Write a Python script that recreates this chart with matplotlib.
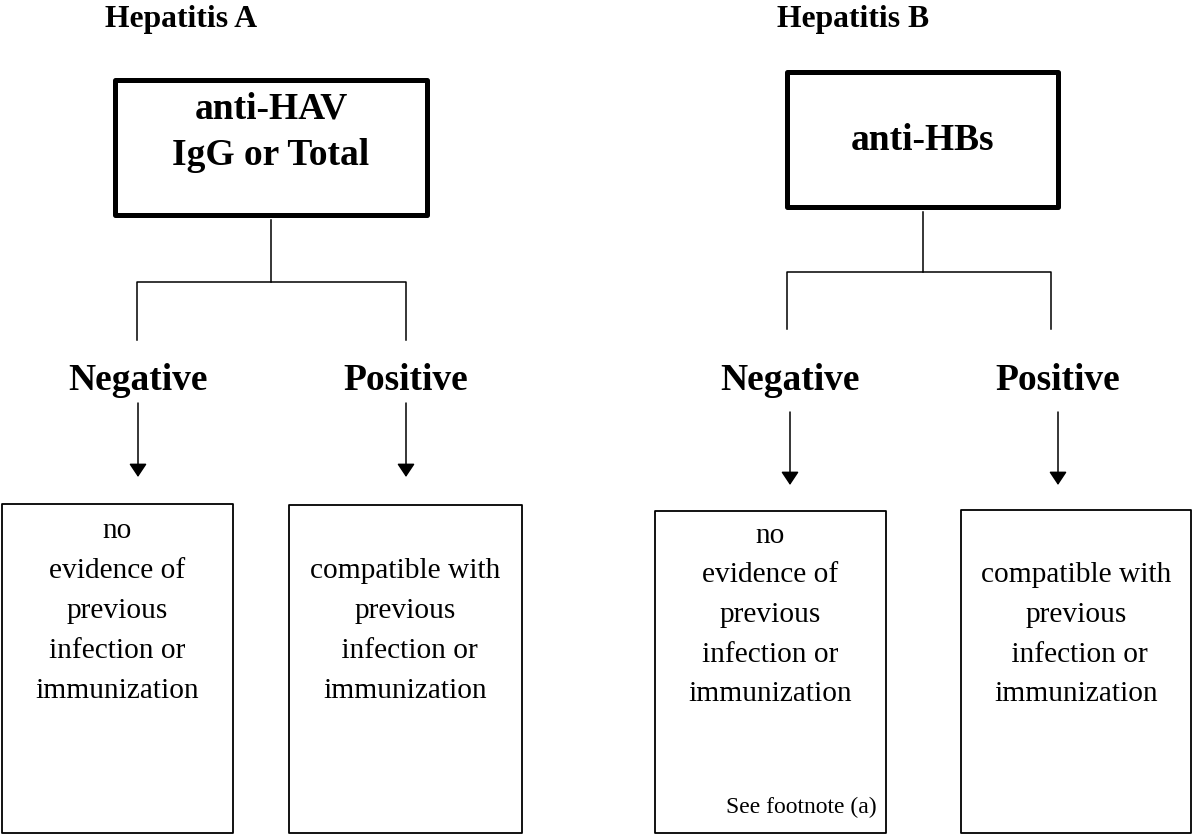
import matplotlib
matplotlib.use('Agg')
from matplotlib import pyplot as plt
from matplotlib.patches import Rectangle

plt.rcParams['font.family'] = ['Liberation Serif', 'DejaVu Serif']

##### chart content #####
panel_titles = ['Hepatitis A', 'Hepatitis B']
test_names = [['anti-HAV', 'IgG or Total'], ['anti-HBs']]
result_labels = ['Negative', 'Positive']
negative_text = ['no', 'evidence of', 'previous', 'infection or', 'immunization']
positive_text = ['compatible with', 'previous', ' infection or', 'immunization']
footnote = 'See footnote (a)'
#########################

# layout in pixels (y goes down), one dict per panel
panels = [
    dict(title_x=105, top_box=(115, 80, 427, 215), top_text_y=[118, 165],
         stem=(271, 220, 282), split=(137, 406), drop=340,
         arrows=(138, 406), arrow_y=(403, 477),
         boxes=[(2, 504, 233, 833), (289, 505, 522, 833)],
         line0=538, step=40),
    dict(title_x=777, top_box=(787, 72, 1058, 207), top_text_y=[150],
         stem=(923, 212, 272), split=(787, 1051), drop=329,
         arrows=(790, 1058), arrow_y=(412, 485),
         boxes=[(655, 511, 886, 833), (961, 510, 1191, 833)],
         line0=543, step=39.5),
]


def box(ax, x0, y0, x1, y1, lw):
    ax.add_patch(Rectangle((x0, y0), x1 - x0, y1 - y0, fill=False,
                           edgecolor='black', linewidth=lw, joinstyle='round'))


def arrow(ax, x, y0, y1):
    ax.annotate('', xy=(x, y1), xytext=(x, y0),
                arrowprops=dict(arrowstyle='-|>,head_length=0.45,head_width=0.3',
                                mutation_scale=18, color='black', lw=1.1,
                                shrinkA=0, shrinkB=0))


fig = plt.figure(figsize=(11.92, 8.34), dpi=100)
ax = fig.add_axes([0, 0, 1, 1])
ax.set_xlim(0, 1192)
ax.set_ylim(834, 0)
ax.axis('off')

for i, p in enumerate(panels):
    # title
    ax.text(p['title_x'], 27, panel_titles[i], fontsize=22.8, fontweight='bold',
            ha='left', va='baseline')

    # test box
    x0, y0, x1, y1 = p['top_box']
    box(ax, x0, y0, x1, y1, 3.6)
    cx = (x0 + x1) / 2
    for line, ty in zip(test_names[i], p['top_text_y']):
        ax.text(cx, ty, line, fontsize=27, fontweight='bold', ha='center', va='baseline')

    # connector
    sx, sy0, sy1 = p['stem']
    ax.plot([sx, sx], [sy0, sy1], color='black', lw=1.1)
    lx, rx = p['split']
    ax.plot([lx, lx, rx, rx], [p['drop'], sy1, sy1, p['drop']], color='black', lw=1.1)

    # results + arrows
    for j, ax_x in enumerate(p['arrows']):
        bx0, by0, bx1, by1 = p['boxes'][j]
        ax.text(ax_x, 390, result_labels[j], fontsize=27, fontweight='bold',
                ha='center', va='baseline')
        arrow(ax, ax_x, p['arrow_y'][0], p['arrow_y'][1])

        box(ax, bx0, by0, bx1, by1, 1.3)
        bcx = (bx0 + bx1) / 2
        if j == 0:
            lines = negative_text
            start = p['line0']
        else:
            lines = positive_text
            start = p['line0'] + p['step']
        for k, line in enumerate(lines):
            ax.text(bcx, start + k * p['step'], line, fontsize=21.2,
                    ha='center', va='baseline')

# footnote in hepatitis B negative box
ax.text(877, 813, footnote, fontsize=17, ha='right', va='baseline')

fig.savefig('out.png', dpi=100)
